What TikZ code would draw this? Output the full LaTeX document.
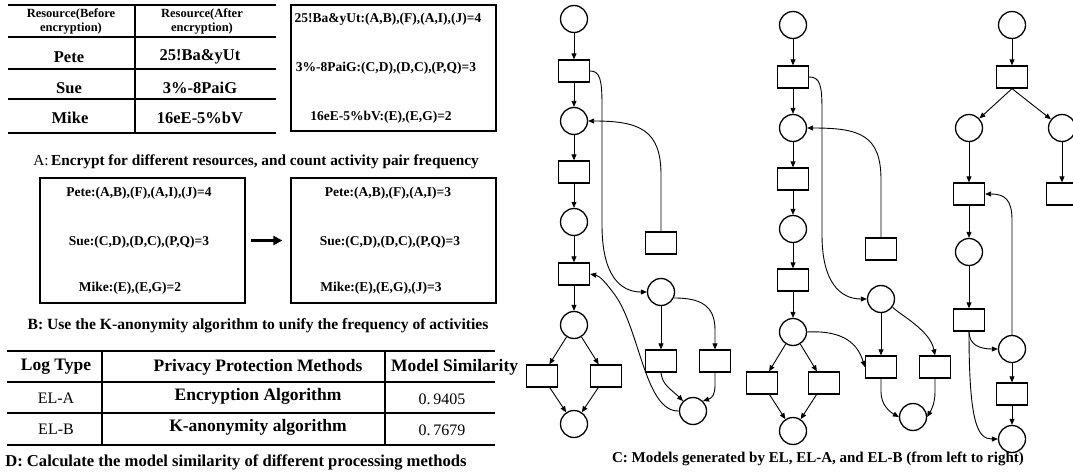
\documentclass[tikz,border=0pt]{standalone}
\usepackage{fontspec}
\setmainfont{Liberation Serif}
\usetikzlibrary{arrows.meta}
\tikzset{
  place/.style={circle, draw, line width=1.3pt, minimum size=27pt, inner sep=0pt},
  trans/.style={rectangle, draw, line width=1.3pt, minimum width=31pt, minimum height=22pt, inner sep=0pt},
  arr/.style={-{Triangle[length=6pt,width=5pt]}, line width=0.9pt},
  bigarrow/.style={-{Triangle[length=9pt,width=9pt]}, line width=2.6pt},
  rule/.style={line width=1.3pt},
  frame/.style={draw, line width=1.2pt, inner sep=0pt},
  txt/.style={font=\bfseries\fontsize{13.5}{15}\selectfont, inner sep=0pt},
  hdr/.style={font=\bfseries\fontsize{12.5}{14}\selectfont, align=center, inner sep=0pt},
  cell/.style={font=\bfseries\fontsize{16.5}{18}\selectfont, inner sep=0pt},
  dcell/.style={font=\bfseries\fontsize{17.5}{19}\selectfont, inner sep=0pt},
  plain/.style={font=\fontsize{16}{18}\selectfont, inner sep=0pt},
  captxt/.style={font=\bfseries\fontsize{15.3}{17}\selectfont, inner sep=0pt}
}
\begin{document}
\begin{tikzpicture}[x=1pt, y=-1pt]
\useasboundingbox (0,0) rectangle (1073,476);
\clip (0,0) rectangle (1073,476);
\fill[white] (0,0) rectangle (1073,476);

% ---------- Table A ----------
\draw[rule] (8,5) -- (276,5);
\draw[rule] (8,37) -- (276,37);
\draw[rule] (8,69) -- (276,69);
\draw[rule] (8,99) -- (276,99);
\draw[rule] (8,133) -- (276,133);
\draw[rule] (135,5) -- (135,133);
\node[hdr] (ha1) at (71,21) {Resource(Before\\encryption)};
\node[hdr] (ha2) at (202,21) {Resource(After\\encryption)};
\node[cell] (ra1) at (69,57) {Pete};
\node[cell] (rb1) at (200,57) {25!Ba\&yUt};
\node[cell] (ra2) at (69,88) {Sue};
\node[cell] (rb2) at (200,88) {3\%-8PaiG};
\node[cell] (ra3) at (70,118) {Mike};
\node[cell] (rb3) at (200,118) {16eE-5\%bV};

% ---------- Box A ----------
\node[frame, minimum width=205pt, minimum height=126pt] (A2) at (393.5,68) {};
\node[txt] (a21) at (388,19) {25!Ba\&yUt:(A,B),(F),(A,I),(J)=4};
\node[txt] (a22) at (386,68) {3\%-8PaiG:(C,D),(D,C),(P,Q)=3};
\node[txt] (a23) at (381,117) {16eE-5\%bV:(E),(E,G)=2};
\node[captxt] (capA) at (256,162) {{\mdseries A:}\,Encrypt for different resources, and count activity pair frequency};

% ---------- Boxes B ----------
\node[frame, minimum width=205pt, minimum height=125pt] (B1) at (142.5,240.5) {};
\node[frame, minimum width=205pt, minimum height=125pt] (B2) at (393.5,240.5) {};
\node[txt] (b11) at (139,193) {Pete:(A,B),(F),(A,I),(J)=4};
\node[txt] (b12) at (139,242) {Sue:(C,D),(D,C),(P,Q)=3};
\node[txt] (b13) at (130,288) {Mike:(E),(E,G)=2};
\node[txt] (b21) at (388,193) {Pete:(A,B),(F),(A,I)=3};
\node[txt] (b22) at (390,242) {Sue:(C,D),(D,C),(P,Q)=3};
\node[txt] (b23) at (381,288) {Mike:(E),(E,G),(J)=3};
\draw[bigarrow, shorten <=5pt, shorten >=8pt] (B1) -- (B2);
\node[captxt, font=\bfseries\fontsize{15.6}{17}\selectfont] (capB) at (258,326) {B: Use the K-anonymity algorithm to unify the frequency of activities};

% ---------- Table D ----------
\draw[rule] (7,351) -- (495,351);
\draw[rule] (7,382) -- (495,382);
\draw[rule] (7,413) -- (495,413);
\draw[rule] (7,445) -- (495,445);
\draw[rule] (102,351) -- (102,445);
\draw[rule] (385,351) -- (385,445);
\node[dcell] (d01) at (56,367) {Log Type};
\node[dcell] (d02) at (258,367) {Privacy Protection Methods};
\node[dcell, anchor=west] (d03) at (391,367) {Model Similarity};
\node[plain] (d11) at (56,398) {EL-A};
\node[dcell] (d12) at (258,396) {Encryption Algorithm};
\node[plain] (d13) at (442,399) {0.\,9405};
\node[plain] (d21) at (56,429) {EL-B};
\node[dcell] (d22) at (258,427) {K-anonymity algorithm};
\node[plain] (d23) at (442,430) {0.\,7679};
\node[captxt, font=\bfseries\fontsize{16.6}{18}\selectfont] (capD) at (236,462) {D: Calculate the model similarity of different processing methods};

% ---------- Model 1 (EL) ----------
\node[place] (m1p1) at (574,19) {};
\node[trans] (m1t1) at (574,71) {};
\node[place] (m1p2) at (574,121) {};
\node[trans] (m1t2) at (574,172) {};
\node[place] (m1p3) at (574,222) {};
\node[trans] (m1t3) at (574,274) {};
\node[place] (m1p4) at (574,325) {};
\node[trans] (m1tl) at (542,376) {};
\node[trans] (m1tr) at (606,376) {};
\node[place] (m1p5) at (574,424) {};
\node[trans] (m1tb) at (661,243) {};
\node[place] (m1pm) at (661,292) {};
\node[trans] (m1tml) at (661,361) {};
\node[trans] (m1tmr) at (715,361) {};
\node[place] (m1pb) at (693,411) {};
\draw[arr] (m1p1) -- (m1t1);
\draw[arr] (m1t1) -- (m1p2);
\draw[arr] (m1p2) -- (m1t2);
\draw[arr] (m1t2) -- (m1p3);
\draw[arr] (m1p3) -- (m1t3);
\draw[arr] (m1t3) -- (m1p4);
\draw[arr] (m1p4) -- (m1tl);
\draw[arr] (m1p4) -- (m1tr);
\draw[arr] (m1tl) -- (m1p5);
\draw[arr] (m1tr) -- (m1p5);
\draw[arr] (m1t1.east) .. controls (600,71) and (602,80) .. (602,105) -- (602,225) .. controls (602,275) and (620,292) .. (m1pm.west);
\draw[arr] (m1tb.north) -- (661,175) .. controls (661,130) and (640,121) .. (m1p2.east);
\draw[arr] (m1pm) -- (m1tml);
\draw[arr] (m1pm.-25) .. controls (700,298) and (715,305) .. (715,330) -- (m1tmr.north);
\draw[arr] (m1tml.south) .. controls (662,385) and (672,390) .. (m1pb.north west);
\draw[arr] (m1tmr.south) -- (715,385) .. controls (715,395) and (712,398) .. (m1pb.north east);
\draw[arr] (m1pb.west) .. controls (645,412) and (640,330) .. (615,295) .. controls (606,283) and (600,276) .. (m1t3.east);

% ---------- Model 2 (EL-A) ----------
\node[place] (m2p1) at (793,25) {};
\node[trans] (m2t1) at (793,77) {};
\node[place] (m2p2) at (793,128) {};
\node[trans] (m2t2) at (793,179) {};
\node[place] (m2p3) at (793,229) {};
\node[trans] (m2t3) at (793,280) {};
\node[place] (m2p4) at (793,332) {};
\node[trans] (m2tl) at (762,383) {};
\node[trans] (m2tr) at (824,383) {};
\node[place] (m2p5) at (793,431) {};
\node[trans] (m2tb) at (881,249) {};
\node[place] (m2pm) at (881,299) {};
\node[trans] (m2tml) at (881,367) {};
\node[trans] (m2tmr) at (935,367) {};
\node[place] (m2pb) at (913,417) {};
\draw[arr] (m2p1) -- (m2t1);
\draw[arr] (m2t1) -- (m2p2);
\draw[arr] (m2p2) -- (m2t2);
\draw[arr] (m2t2) -- (m2p3);
\draw[arr] (m2p3) -- (m2t3);
\draw[arr] (m2t3) -- (m2p4);
\draw[arr] (m2p4) -- (m2tl);
\draw[arr] (m2p4) -- (m2tr);
\draw[arr] (m2tl) -- (m2p5);
\draw[arr] (m2tr) -- (m2p5);
\draw[arr] (m2t1.east) .. controls (820,77) and (822,85) .. (822,110) -- (822,235) .. controls (822,282) and (840,299) .. (m2pm.west);
\draw[arr] (m2tb.north) -- (881,180) .. controls (881,135) and (860,128) .. (m2p2.east);
\draw[arr] (m2pm) -- (m2tml);
\draw[arr] (m2pm.-35) .. controls (900,315) and (930,330) .. (m2tmr.north);
\draw[arr] (m2tml.south) -- (881,392) .. controls (881,405) and (890,412) .. (m2pb.west);
\draw[arr] (m2tmr.south) -- (935,392) .. controls (935,405) and (930,412) .. (m2pb.east);
\draw[arr] (m2p4.east) .. controls (845,330) and (858,345) .. (m2tml.west);

% ---------- Model 3 (EL-B) ----------
\node[place] (m3p1) at (1012,25) {};
\node[trans] (m3t1) at (1012,77) {};
\node[place] (m3pl) at (969,128) {};
\node[place] (m3pr) at (1062,128) {};
\node[trans] (m3tl1) at (969,194) {};
\node[trans] (m3tr1) at (1062,194) {};
\node[place] (m3pl2) at (969,252) {};
\node[trans] (m3tl2) at (969,320) {};
\node[place] (m3ps) at (1012,349) {};
\node[trans] (m3ts) at (1012,394) {};
\node[place] (m3pe) at (1012,439) {};
\draw[arr] (m3p1) -- (m3t1);
\draw[arr] (m3t1.south) -- (m3pl);
\draw[arr] (m3t1.south) -- (m3pr);
\draw[arr] (m3pl) -- (m3tl1);
\draw[arr] (m3pr) -- (m3tr1);
\draw[arr] (m3tl1) -- (m3pl2);
\draw[arr] (m3pl2) -- (m3tl2);
\draw[arr] (m3tl2.south) .. controls (969,345) and (980,349) .. (m3ps.west);
\draw[arr] (m3tl2.south) .. controls (969,425) and (978,439) .. (m3pe.west);
\draw[arr] (m3ps.north) -- (1012,220) .. controls (1012,200) and (1005,194) .. (m3tl1.east);
\draw[arr] (m3ps) -- (m3ts);
\draw[arr] (m3ts) -- (m3pe);

\node[captxt, font=\bfseries\fontsize{15}{17}\selectfont] (capC) at (818,459) {C: Models generated by EL, EL-A, and EL-B (from left to right)};
\end{tikzpicture}
\end{document}
